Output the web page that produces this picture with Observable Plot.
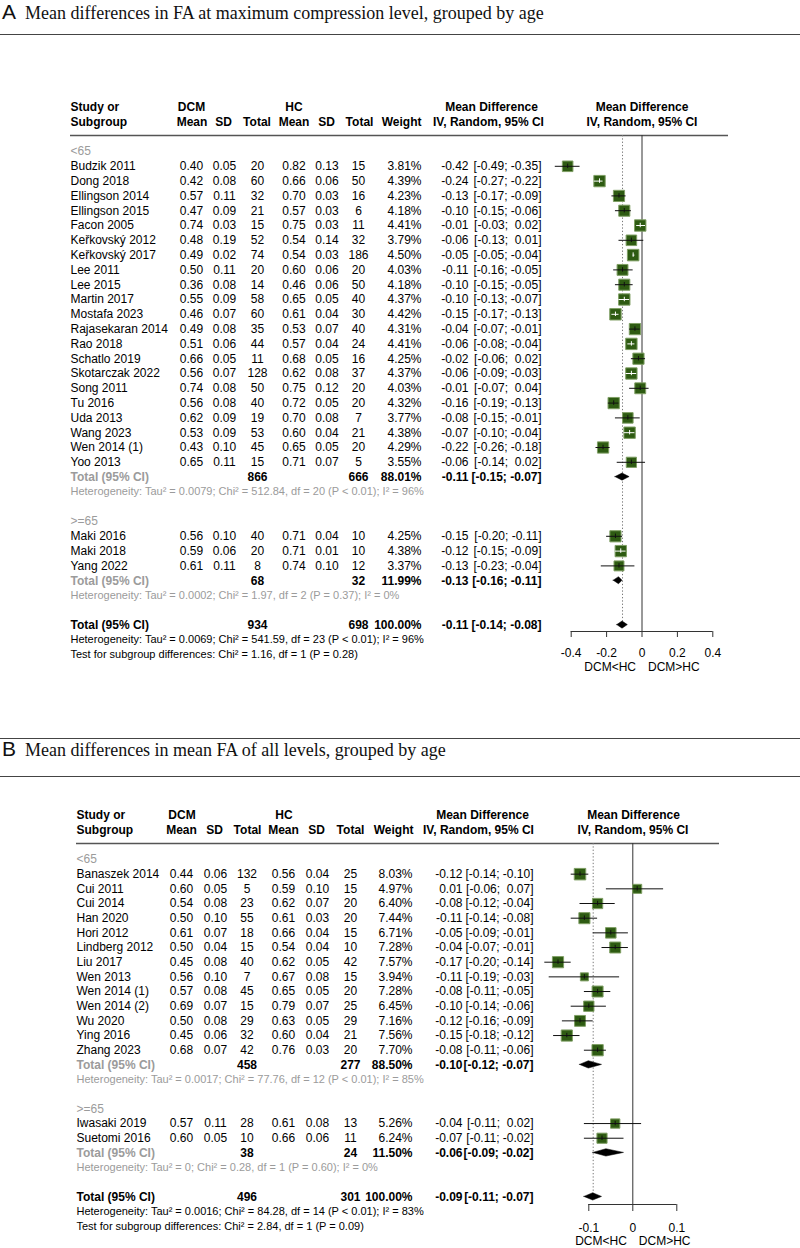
<!DOCTYPE html>
<html><head><meta charset="utf-8">
<script src="https://cdn.jsdelivr.net/npm/d3@7"></script>
<script src="https://cdn.jsdelivr.net/npm/@observablehq/plot@0.6"></script>
<style>
body{margin:0;background:#fff;}
#root{position:relative;width:800px;height:1248px;overflow:hidden;background:#fff;}
.title{position:absolute;left:0;white-space:nowrap;font-family:"Liberation Serif","Times New Roman",serif;font-size:18px;line-height:24px;color:#111;}
.title .lt{font-family:"Liberation Sans",Arial,sans-serif;font-size:21px;margin-left:2px;margin-right:9px;}
.hr{position:absolute;left:0;width:800px;height:0;border-top:1.5px solid #444;}
.panel{position:absolute;left:0;}
</style></head><body><div id="root"></div>
<script>
// ---------- shared header labels ----------
const headTop = ["Study or", "DCM", "HC", "Mean Difference", "Mean Difference"];
const headBot = ["Subgroup", "Mean", "SD", "Total", "Mean", "SD", "Total", "Weight", "IV, Random, 95% CI", "IV, Random, 95% CI"];
const dirLabels = ["DCM<HC", "DCM>HC"];

// ---------- Panel A ----------
const aTitle = ["A", "Mean differences in FA at maximum compression level, grouped by age"];
const aStudy = ["Budzik 2011","Dong 2018","Ellingson 2014","Ellingson 2015","Facon 2005","Keřkovský 2012","Keřkovský 2017","Lee 2011","Lee 2015","Martin 2017","Mostafa 2023","Rajasekaran 2014","Rao 2018","Schatlo 2019","Skotarczak 2022","Song 2011","Tu 2016","Uda 2013","Wang 2023","Wen 2014 (1)","Yoo 2013","Maki 2016","Maki 2018","Yang 2022"];
const aAge = ["<65","<65","<65","<65","<65","<65","<65","<65","<65","<65","<65","<65","<65","<65","<65","<65","<65","<65","<65","<65","<65",">=65",">=65",">=65"];
const aDcmMean = [0.40,0.42,0.57,0.47,0.74,0.48,0.49,0.50,0.36,0.55,0.46,0.49,0.51,0.66,0.56,0.74,0.56,0.62,0.53,0.43,0.65,0.56,0.59,0.61];
const aDcmSD = [0.05,0.08,0.11,0.09,0.03,0.19,0.02,0.11,0.08,0.09,0.07,0.08,0.06,0.05,0.07,0.08,0.08,0.09,0.09,0.10,0.11,0.10,0.06,0.11];
const aDcmN = [20,60,32,21,15,52,74,20,14,58,60,35,44,11,128,50,40,19,53,45,15,40,20,8];
const aHcMean = [0.82,0.66,0.70,0.57,0.75,0.54,0.54,0.60,0.46,0.65,0.61,0.53,0.57,0.68,0.62,0.75,0.72,0.70,0.60,0.65,0.71,0.71,0.71,0.74];
const aHcSD = [0.13,0.06,0.03,0.03,0.03,0.14,0.03,0.06,0.06,0.05,0.04,0.07,0.04,0.05,0.08,0.12,0.05,0.08,0.04,0.05,0.07,0.04,0.01,0.10];
const aHcN = [15,50,16,6,11,32,186,20,50,40,30,40,24,16,37,20,20,7,21,20,5,10,10,12];
const aWeight = [3.81,4.39,4.23,4.18,4.41,3.79,4.50,4.03,4.18,4.37,4.42,4.31,4.41,4.25,4.37,4.03,4.32,3.77,4.38,4.29,3.55,4.25,4.38,3.37];
const aMD = [-0.42,-0.24,-0.13,-0.10,-0.01,-0.06,-0.05,-0.11,-0.10,-0.10,-0.15,-0.04,-0.06,-0.02,-0.06,-0.01,-0.16,-0.08,-0.07,-0.22,-0.06,-0.15,-0.12,-0.13];
const aLo = [-0.49,-0.27,-0.17,-0.15,-0.03,-0.13,-0.05,-0.16,-0.15,-0.13,-0.17,-0.07,-0.08,-0.06,-0.09,-0.07,-0.19,-0.15,-0.10,-0.26,-0.14,-0.20,-0.15,-0.23];
const aHi = [-0.35,-0.22,-0.09,-0.06,0.02,0.01,-0.04,-0.05,-0.05,-0.07,-0.13,-0.01,-0.04,0.02,-0.03,0.04,-0.13,-0.01,-0.04,-0.18,0.02,-0.11,-0.09,-0.04];
const aSub = ["<65", ">=65"];
const aSubN1 = [866, 68];
const aSubN2 = [666, 32];
const aSubW = [88.01, 11.99];
const aSubMD = [-0.11, -0.13];
const aSubLo = [-0.15, -0.16];
const aSubHi = [-0.07, -0.11];
const aSubTau2 = [0.0079, 0.0002];
const aSubChi2 = [512.84, 1.97];
const aSubDf = [20, 2];
const aSubP = ["< 0.01", "= 0.37"];
const aSubI2 = [96, 0];
const aAllN = [934, 698];
const aAllW = 100.00;
const aAllCI = [-0.11, -0.14, -0.08];
const aAllHet = [0.0069, 541.59, 23, "< 0.01", 96];
const aTest = [1.16, 1, "= 0.28"];

// ---------- Panel B ----------
const bTitle = ["B", "Mean differences in mean FA of all levels, grouped by age"];
const bStudy = ["Banaszek 2014","Cui 2011","Cui 2014","Han 2020","Hori 2012","Lindberg 2012","Liu 2017","Wen 2013","Wen 2014 (1)","Wen 2014 (2)","Wu 2020","Ying 2016","Zhang 2023","Iwasaki 2019","Suetomi 2016"];
const bAge = ["<65","<65","<65","<65","<65","<65","<65","<65","<65","<65","<65","<65","<65",">=65",">=65"];
const bDcmMean = [0.44,0.60,0.54,0.50,0.61,0.50,0.45,0.56,0.57,0.69,0.50,0.45,0.68,0.57,0.60];
const bDcmSD = [0.06,0.05,0.08,0.10,0.07,0.04,0.08,0.10,0.08,0.07,0.08,0.06,0.07,0.11,0.05];
const bDcmN = [132,5,23,55,18,15,40,7,45,15,29,32,42,28,10];
const bHcMean = [0.56,0.59,0.62,0.61,0.66,0.54,0.62,0.67,0.65,0.79,0.63,0.60,0.76,0.61,0.66];
const bHcSD = [0.04,0.10,0.07,0.03,0.04,0.04,0.05,0.08,0.05,0.07,0.05,0.04,0.03,0.08,0.06];
const bHcN = [25,15,20,20,15,10,42,15,20,25,29,21,20,13,11];
const bWeight = [8.03,4.97,6.40,7.44,6.71,7.28,7.57,3.94,7.28,6.45,7.16,7.56,7.70,5.26,6.24];
const bMD = [-0.12,0.01,-0.08,-0.11,-0.05,-0.04,-0.17,-0.11,-0.08,-0.10,-0.12,-0.15,-0.08,-0.04,-0.07];
const bLo = [-0.14,-0.06,-0.12,-0.14,-0.09,-0.07,-0.20,-0.19,-0.11,-0.14,-0.16,-0.18,-0.11,-0.11,-0.11];
const bHi = [-0.10,0.07,-0.04,-0.08,-0.01,-0.01,-0.14,-0.03,-0.05,-0.06,-0.09,-0.12,-0.06,0.02,-0.02];
const bSub = ["<65", ">=65"];
const bSubN1 = [458, 38];
const bSubN2 = [277, 24];
const bSubW = [88.50, 11.50];
const bSubMD = [-0.10, -0.06];
const bSubLo = [-0.12, -0.09];
const bSubHi = [-0.07, -0.02];
const bSubTau2 = [0.0017, 0];
const bSubChi2 = [77.76, 0.28];
const bSubDf = [12, 1];
const bSubP = ["< 0.01", "= 0.60"];
const bSubI2 = [85, 0];
const bAllN = [496, 301];
const bAllW = 100.00;
const bAllCI = [-0.09, -0.11, -0.07];
const bAllHet = [0.0016, 84.28, 14, "< 0.01", 83];
const bTest = [2.84, 1, "= 0.09"];

// ---------- layout (pixels) ----------
const LA = {top: 95, height: 585, y0: 56, step: 14.8, left: 70, right: 728,
  xdom: [-0.4, 0.4], xrange: [570.7, 712.3], ticks: [-0.4, -0.2, 0, 0.2, 0.4],
  axisY: 536, tickSize: 6, tickPad: 11, dirRow: 34.86, side: 11.5, dia: 0.24, lineRow: -1.08,
  hTop: [[70,"start"],[191,"middle"],[293.5,"middle"],[491,"middle"],[641.5,"middle"]],
  hBot: [[70,"start"],[191.5,"middle"],[223,"middle"],[256.5,"middle"],[293.5,"middle"],[326,"middle"],[359,"middle"],[421,"end"],[488,"middle"],[641.5,"middle"]],
  col: {m1:191, s1:224, n1:257, m2:293.5, s2:326.5, n2:358, w:421, est:468, ci:541}};
const LB = {top: 795, height: 453, y0: 64, step: 14.67, left: 76, right: 719,
  xdom: [-0.1, 0.1], xrange: [588.3, 676.3], ticks: [-0.1, 0, 0.1],
  axisY: 409, tickSize: 7, tickPad: 12, dirRow: 26.04, side: 11.5, dia: 0.25, lineRow: -1.09,
  hTop: [[76,"start"],[181.5,"middle"],[283.5,"middle"],[482,"middle"],[633,"middle"]],
  hBot: [[76,"start"],[181,"middle"],[214,"middle"],[247,"middle"],[283,"middle"],[316,"middle"],[350,"middle"],[413,"end"],[478,"middle"],[632.5,"middle"]],
  col: {m1:181, s1:215, n1:246.5, m2:283, s2:317, n2:350, w:412, est:462, ci:533}};

const f2 = v => (v < 0 ? "-" : "") + Math.abs(v).toFixed(2);
const pad = v => v < 0 ? f2(v) : "\u00a0" + f2(v);
const fci = (lo, hi) => "[" + pad(lo) + "; " + pad(hi) + "]";
const fw = w => w.toFixed(2) + "%";
const het = (tau, chi, df, p, i2) => `Heterogeneity: Tau\u00b2 = ${tau === 0 ? "0" : tau.toFixed(4)}; Chi\u00b2 = ${chi.toFixed(2)}, df = ${df} (P ${p}); I\u00b2 = ${i2}%`;

function buildPanel(D, L) {
  const T = [], SQ = [], DI = [];
  const grey = "#9b9b9b";
  const pxu = (L.xrange[1] - L.xrange[0]) / (L.xdom[1] - L.xdom[0]);
  const maxW = d3.max(D.weight);
  const add = (r, t, x, a, o = {}) => T.push({r, t, x, a, b: !!o.b, f: o.f || "#000", s: o.s || 12});
  headTop.forEach((t, i) => add(-3, t, L.hTop[i][0], L.hTop[i][1], {b: 1}));
  headBot.forEach((t, i) => add(-2, t, L.hBot[i][0], L.hBot[i][1], {b: 1}));
  const C = L.col;
  let r = 0;
  D.sub.forEach((g, gi) => {
    add(r, g, L.left, "start", {f: grey});
    r++;
    D.study.forEach((s, i) => {
      if (D.age[i] !== g) return;
      add(r, s, L.left, "start");
      add(r, f2(D.m1[i]), C.m1, "middle");
      add(r, f2(D.s1[i]), C.s1, "middle");
      add(r, String(D.n1[i]), C.n1, "middle");
      add(r, f2(D.m2[i]), C.m2, "middle");
      add(r, f2(D.s2[i]), C.s2, "middle");
      add(r, String(D.n2[i]), C.n2, "middle");
      add(r, fw(D.weight[i]), C.w, "end");
      add(r, f2(D.md[i]), C.est, "end");
      add(r, fci(D.lo[i], D.hi[i]), C.ci, "end");
      const se = Math.sqrt(D.s1[i] ** 2 / D.n1[i] + D.s2[i] ** 2 / D.n2[i]);
      const side = L.side * Math.sqrt(D.weight[i] / maxW);
      SQ.push({r, md: D.md[i], lo: D.lo[i], hi: D.hi[i], w: D.weight[i], inside: 2 * 1.96 * se * pxu < side});
      r++;
    });
    add(r, "Total (95% CI)", L.left, "start", {b: 1, f: grey});
    add(r, String(D.subN1[gi]), C.n1, "middle", {b: 1});
    add(r, String(D.subN2[gi]), C.n2, "middle", {b: 1});
    add(r, fw(D.subW[gi]), C.w, "end", {b: 1});
    add(r, f2(D.subMD[gi]), C.est, "end", {b: 1});
    add(r, fci(D.subLo[gi], D.subHi[gi]), C.ci, "end", {b: 1});
    DI.push({id: "s" + gi, r, md: D.subMD[gi], lo: D.subLo[gi], hi: D.subHi[gi]});
    r++;
    add(r, het(D.subTau2[gi], D.subChi2[gi], D.subDf[gi], D.subP[gi], D.subI2[gi]), L.left, "start", {f: grey, s: 11});
    r += 2;
  });
  const allRow = r;
  add(r, "Total (95% CI)", L.left, "start", {b: 1});
  add(r, String(D.allN[0]), C.n1, "middle", {b: 1});
  add(r, String(D.allN[1]), C.n2, "middle", {b: 1});
  add(r, fw(D.allW), C.w, "end", {b: 1});
  add(r, f2(D.allCI[0]), C.est, "end", {b: 1});
  add(r, fci(D.allCI[1], D.allCI[2]), C.ci, "end", {b: 1});
  DI.push({id: "all", r, md: D.allCI[0], lo: D.allCI[1], hi: D.allCI[2]});
  r++;
  add(r, het(...D.allHet), L.left, "start", {s: 11});
  r++;
  add(r, `Test for subgroup differences: Chi\u00b2 = ${D.test[0].toFixed(2)}, df = ${D.test[1]} (P ${D.test[2]})`, L.left, "start", {s: 11});

  const axisRow = (L.axisY - L.y0) / L.step;
  const diaPts = DI.flatMap(d => [
    {id: d.id, x: d.lo, y1: d.r, y2: d.r},
    {id: d.id, x: d.md, y1: d.r - L.dia, y2: d.r + L.dia},
    {id: d.id, x: d.hi, y1: d.r, y2: d.r}
  ]);
  const groups = d3.groups(T, d => `${d.x}|${d.a}|${d.b}|${d.f}|${d.s}`);
  const textMarks = groups.map(([k, items]) => {
    const d0 = items[0];
    return Plot.text(items, {y: "r", text: "t", frameAnchor: "left", dx: d0.x - L.left, textAnchor: d0.a,
      fontWeight: d0.b ? "bold" : "normal", fill: d0.f, fontSize: d0.s});
  });
  const lineCol = d => d.inside ? "#ffffff" : "#111111";
  const yr = [-4, 40];
  return Plot.plot({
    width: 800, height: L.height,
    marginLeft: L.left, marginRight: 800 - L.right, marginTop: 0, marginBottom: L.height - L.axisY,
    style: {fontFamily: "'Liberation Sans', Arial, sans-serif", fontSize: "12px", color: "#000", background: "transparent", overflow: "visible"},
    x: {domain: L.xdom, range: L.xrange},
    y: {type: "linear", domain: yr, range: [L.y0 + yr[0] * L.step, L.y0 + yr[1] * L.step], axis: null},
    r: {type: "sqrt", domain: [0, maxW], range: [0, L.side / Math.sqrt(Math.PI)]},
    marks: [
      Plot.ruleY([L.lineRow], {stroke: "#555", strokeWidth: 1.4}),
      Plot.ruleX([D.allCI[0]], {y1: L.lineRow, y2: allRow, stroke: "#777", strokeWidth: 1, strokeDasharray: "1.3,2"}),
      Plot.ruleX([0], {y1: L.lineRow, y2: axisRow, stroke: "#333", strokeWidth: 1}),
      Plot.ruleY([axisRow], {x1: L.ticks[0], x2: L.ticks[L.ticks.length - 1], stroke: "#333", strokeWidth: 1}),
      Plot.axisX({anchor: "bottom", ticks: L.ticks, tickSize: L.tickSize, tickPadding: L.tickPad, tickFormat: d => String(d), fontSize: 12, label: null, stroke: "#333"}),
      Plot.text([{t: dirLabels[0], x: 0, r: L.dirRow}], {x: "x", y: "r", text: "t", textAnchor: "end", dx: -6, fontSize: 12}),
      Plot.text([{t: dirLabels[1], x: 0, r: L.dirRow}], {x: "x", y: "r", text: "t", textAnchor: "start", dx: 6, fontSize: 12}),
      Plot.dot(SQ, {x: "md", y: "r", r: "w", symbol: "square", fill: "#2e5b12", stroke: "#7f9f64", strokeWidth: 1}),
      Plot.ruleY(SQ, {y: "r", x1: "lo", x2: "hi", stroke: lineCol, strokeWidth: 1}),
      Plot.ruleX(SQ, {x: "md", y1: d => d.r - 0.15, y2: d => d.r + 0.15, stroke: lineCol, strokeWidth: 1}),
      Plot.areaY(diaPts, {x: "x", y1: "y1", y2: "y2", z: "id", fill: "#000", stroke: "#000", strokeWidth: 0.5}),
      ...textMarks
    ]
  });
}

const A = {study: aStudy, age: aAge, m1: aDcmMean, s1: aDcmSD, n1: aDcmN, m2: aHcMean, s2: aHcSD, n2: aHcN,
  weight: aWeight, md: aMD, lo: aLo, hi: aHi, sub: aSub, subN1: aSubN1, subN2: aSubN2, subW: aSubW,
  subMD: aSubMD, subLo: aSubLo, subHi: aSubHi, subTau2: aSubTau2, subChi2: aSubChi2, subDf: aSubDf, subP: aSubP, subI2: aSubI2,
  allN: aAllN, allW: aAllW, allCI: aAllCI, allHet: aAllHet, test: aTest};
const B = {study: bStudy, age: bAge, m1: bDcmMean, s1: bDcmSD, n1: bDcmN, m2: bHcMean, s2: bHcSD, n2: bHcN,
  weight: bWeight, md: bMD, lo: bLo, hi: bHi, sub: bSub, subN1: bSubN1, subN2: bSubN2, subW: bSubW,
  subMD: bSubMD, subLo: bSubLo, subHi: bSubHi, subTau2: bSubTau2, subChi2: bSubChi2, subDf: bSubDf, subP: bSubP, subI2: bSubI2,
  allN: bAllN, allW: bAllW, allCI: bAllCI, allHet: bAllHet, test: bTest};

const root = document.getElementById("root");
function addTitle(t, top) {
  const d = document.createElement("div");
  d.className = "title";
  d.style.top = top + "px";
  const s = document.createElement("span"); s.className = "lt"; s.textContent = t[0];
  d.appendChild(s);
  d.appendChild(document.createTextNode(t[1]));
  root.appendChild(d);
}
function addLine(top) {
  const d = document.createElement("div"); d.className = "hr"; d.style.top = top + "px"; root.appendChild(d);
}
addTitle(aTitle, 0);
addLine(33.5);
addLine(737.5);
addTitle(bTitle, 737);
addLine(775.5);
function addPanel(svg, L) {
  const w = document.createElement("div"); w.className = "panel"; w.style.top = L.top + "px";
  w.appendChild(svg); root.appendChild(w);
}
addPanel(buildPanel(A, LA), LA);
addPanel(buildPanel(B, LB), LB);
</script></body></html>
